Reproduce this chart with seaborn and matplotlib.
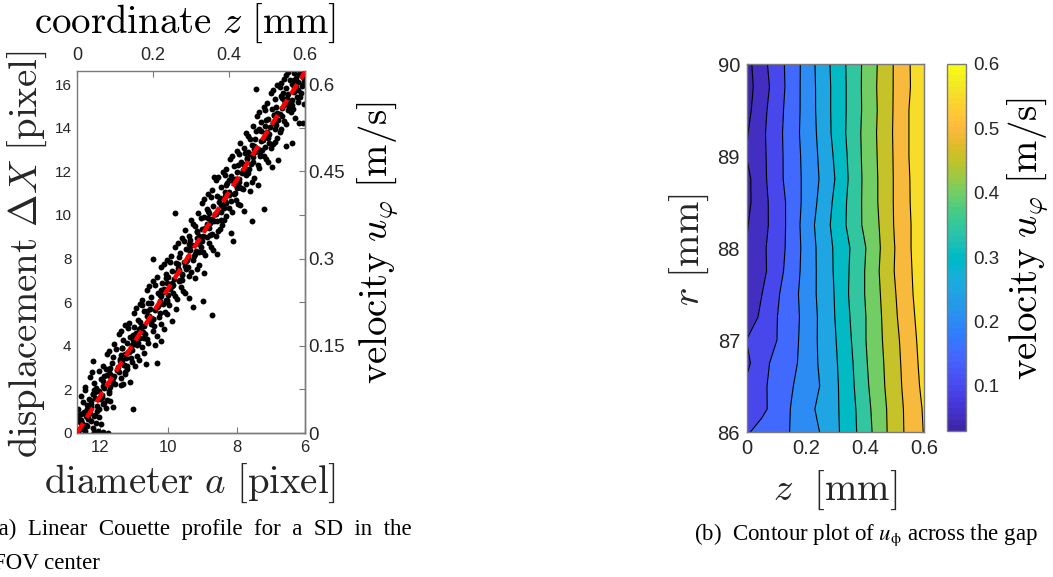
import numpy as np
import matplotlib
matplotlib.use("Agg")
import matplotlib.pyplot as plt
import seaborn as sns
import pandas as pd
from matplotlib.colors import ListedColormap, Normalize
from matplotlib.cm import ScalarMappable

# ---------------- data: (a) single SD, displacement vs. gap coordinate ----------------
# (z [mm], dX [pixel]) read off the scatter cloud -- outer part of the cloud
samples = [
    (0.004, 0.12), (0.012, 0.45), (0.021, 0.08), (0.030, 0.62), (0.008, 0.88), (0.041, 0.25),
    (0.055, 0.10), (0.018, 0.97), (0.036, 0.55), (0.062, 0.40), (0.002, 0.70), (0.047, 0.83),
    (0.026, 0.30), (0.069, 0.05), (0.015, 0.20), (0.058, 0.74), (0.033, 0.91), (0.081, 0.02),
    (0.044, 0.06), (0.010, 0.60), (0.024, 0.78), (0.050, 0.48),
    (0.003, 1.10), (0.017, 1.42), (0.029, 1.05), (0.041, 1.80), (0.052, 1.25), (0.064, 1.60),
    (0.075, 1.15), (0.088, 1.45), (0.022, 1.95), (0.036, 1.33), (0.047, 1.62), (0.059, 1.92),
    (0.070, 1.38), (0.011, 1.70), (0.083, 1.85), (0.095, 1.20), (0.031, 1.55), (0.057, 1.08),
    (0.044, 1.98), (0.067, 1.74), (0.078, 1.52), (0.025, 1.28), (0.148, 1.09),
    (0.021, 2.10), (0.034, 2.55), (0.046, 2.30), (0.058, 2.85), (0.069, 2.15), (0.080, 2.65),
    (0.092, 2.40), (0.104, 2.90), (0.115, 2.20), (0.127, 2.70), (0.140, 2.35), (0.051, 2.05),
    (0.063, 2.48), (0.075, 2.95), (0.087, 2.12), (0.098, 2.60), (0.110, 2.78), (0.122, 2.25),
    (0.040, 2.82), (0.084, 2.88), (0.071, 2.60), (0.117, 2.52), (0.132, 2.95),
    (0.041, 3.30), (0.068, 3.05), (0.079, 3.60), (0.091, 3.20), (0.102, 3.85), (0.113, 3.40),
    (0.124, 3.10), (0.135, 3.70), (0.146, 3.25), (0.158, 3.55), (0.170, 3.95), (0.181, 3.15),
    (0.096, 3.50), (0.108, 3.02), (0.119, 3.92), (0.130, 3.45), (0.141, 3.80), (0.152, 3.05),
    (0.164, 3.35), (0.085, 3.75), (0.210, 3.20), (0.126, 3.62), (0.175, 3.66),
    (0.098, 4.10), (0.110, 4.55), (0.121, 4.25), (0.133, 4.80), (0.144, 4.05), (0.155, 4.60),
    (0.166, 4.35), (0.177, 4.90), (0.188, 4.15), (0.199, 4.70), (0.211, 4.45), (0.222, 4.20),
    (0.127, 4.95), (0.139, 4.40), (0.150, 4.85), (0.161, 4.12), (0.172, 4.65), (0.184, 4.30),
    (0.195, 4.98), (0.116, 4.68), (0.205, 4.02), (0.147, 4.28), (0.228, 4.75),
    (0.138, 5.05), (0.149, 5.50), (0.161, 5.20), (0.172, 5.85), (0.183, 5.35), (0.194, 5.10),
    (0.205, 5.65), (0.216, 5.30), (0.227, 5.90), (0.238, 5.45), (0.249, 5.15), (0.260, 5.70),
    (0.177, 5.60), (0.188, 5.95), (0.199, 5.25), (0.210, 5.80), (0.221, 5.02), (0.232, 5.55),
    (0.166, 5.92), (0.243, 5.88), (0.304, 5.77), (0.354, 5.41), (0.155, 5.75),
    (0.172, 6.10), (0.184, 6.55), (0.195, 6.25), (0.206, 6.80), (0.218, 6.05), (0.229, 6.60),
    (0.240, 6.35), (0.251, 6.90), (0.262, 6.15), (0.273, 6.70), (0.284, 6.40), (0.296, 6.20),
    (0.200, 6.95), (0.212, 6.42), (0.223, 6.88), (0.235, 6.12), (0.246, 6.62), (0.257, 6.30),
    (0.268, 6.97), (0.190, 6.72), (0.279, 6.52), (0.332, 6.07), (0.225, 6.48),
    (0.210, 7.15), (0.222, 7.60), (0.233, 7.30), (0.244, 7.85), (0.255, 7.05), (0.266, 7.55),
    (0.277, 7.25), (0.288, 7.90), (0.299, 7.40), (0.311, 7.10), (0.322, 7.70), (0.334, 7.35),
    (0.238, 7.95), (0.249, 7.45), (0.260, 7.80), (0.271, 7.02), (0.283, 7.65), (0.294, 7.20),
    (0.305, 7.92), (0.228, 7.75), (0.316, 7.50), (0.200, 7.98), (0.262, 7.38),
    (0.248, 8.10), (0.259, 8.55), (0.270, 8.25), (0.281, 8.80), (0.292, 8.05), (0.303, 8.60),
    (0.314, 8.35), (0.325, 8.90), (0.336, 8.15), (0.347, 8.70), (0.358, 8.40), (0.369, 8.20),
    (0.276, 8.95), (0.287, 8.45), (0.298, 8.85), (0.309, 8.12), (0.320, 8.65), (0.331, 8.30),
    (0.342, 8.98), (0.265, 8.72), (0.353, 8.52), (0.411, 8.80), (0.296, 8.40),
    (0.283, 9.30), (0.294, 9.05), (0.305, 9.60), (0.316, 9.20), (0.327, 9.85), (0.338, 9.40),
    (0.349, 9.10), (0.360, 9.70), (0.371, 9.25), (0.382, 9.55), (0.393, 9.95), (0.404, 9.15),
    (0.311, 9.50), (0.322, 9.02), (0.333, 9.92), (0.344, 9.45), (0.355, 9.80), (0.366, 9.05),
    (0.377, 9.35), (0.300, 9.75), (0.460, 9.70), (0.350, 9.62), (0.388, 9.78),
    (0.318, 10.10), (0.329, 10.55), (0.341, 10.25), (0.352, 10.80), (0.363, 10.05), (0.374, 10.60),
    (0.385, 10.35), (0.396, 10.90), (0.407, 10.15), (0.418, 10.70), (0.429, 10.45), (0.440, 10.20),
    (0.346, 10.95), (0.357, 10.42), (0.368, 10.85), (0.379, 10.12), (0.390, 10.65), (0.401, 10.30),
    (0.412, 10.98), (0.335, 10.72), (0.258, 10.10), (0.492, 10.28), (0.423, 10.52),
    (0.356, 11.15), (0.367, 11.60), (0.378, 11.30), (0.389, 11.85), (0.400, 11.05), (0.411, 11.55),
    (0.422, 11.25), (0.433, 11.90), (0.444, 11.40), (0.455, 11.10), (0.466, 11.70), (0.477, 11.35),
    (0.383, 11.95), (0.394, 11.45), (0.405, 11.80), (0.416, 11.02), (0.427, 11.65), (0.438, 11.20),
    (0.449, 11.92), (0.372, 11.75), (0.460, 11.50), (0.360, 11.73), (0.418, 11.38),
    (0.392, 12.10), (0.403, 12.55), (0.414, 12.25), (0.425, 12.80), (0.436, 12.05), (0.447, 12.60),
    (0.458, 12.35), (0.469, 12.90), (0.480, 12.15), (0.491, 12.70), (0.502, 12.45), (0.513, 12.20),
    (0.420, 12.95), (0.431, 12.42), (0.442, 12.85), (0.453, 12.12), (0.464, 12.65), (0.475, 12.30),
    (0.486, 12.98), (0.409, 12.72), (0.530, 12.50), (0.497, 12.58), (0.456, 12.78),
    (0.428, 13.30), (0.439, 13.05), (0.450, 13.60), (0.461, 13.20), (0.472, 13.85), (0.483, 13.40),
    (0.494, 13.10), (0.505, 13.70), (0.516, 13.25), (0.527, 13.55), (0.538, 13.95), (0.549, 13.15),
    (0.456, 13.50), (0.467, 13.02), (0.478, 13.92), (0.489, 13.45), (0.500, 13.80), (0.511, 13.05),
    (0.522, 13.35), (0.445, 13.75), (0.567, 13.29), (0.495, 13.62), (0.533, 13.78),
    (0.463, 14.10), (0.474, 14.55), (0.485, 14.25), (0.496, 14.80), (0.507, 14.05), (0.518, 14.60),
    (0.529, 14.35), (0.540, 14.90), (0.551, 14.15), (0.562, 14.70), (0.573, 14.45), (0.584, 14.20),
    (0.491, 14.95), (0.502, 14.42), (0.513, 14.85), (0.524, 14.12), (0.535, 14.65), (0.546, 14.30),
    (0.557, 14.98), (0.480, 14.72), (0.594, 14.20), (0.520, 14.52), (0.568, 14.88),
    (0.500, 15.15), (0.511, 15.60), (0.522, 15.30), (0.533, 15.85), (0.544, 15.05), (0.555, 15.55),
    (0.566, 15.25), (0.577, 15.90), (0.588, 15.40), (0.597, 15.10), (0.527, 15.95), (0.538, 15.45),
    (0.549, 15.80), (0.560, 15.02), (0.571, 15.65), (0.582, 15.20), (0.593, 15.92), (0.516, 15.72),
    (0.471, 15.77), (0.553, 15.38), (0.590, 15.60),
    (0.538, 16.05), (0.549, 16.40), (0.560, 16.20), (0.571, 16.50), (0.582, 16.10), (0.593, 16.35),
    (0.555, 16.55), (0.566, 16.00), (0.577, 16.30), (0.588, 16.45), (0.598, 16.15), (0.545, 16.25),
]
# dense core of the cloud, close to the fit line
samples_core = [
    (0.023, 0.35), (0.007, 0.52), (0.030, 0.71), (0.011, 0.86), (0.053, 1.02), (0.037, 1.18),
    (0.069, 1.31), (0.038, 1.47), (0.067, 1.66), (0.041, 1.79), (0.083, 1.93), (0.071, 2.08),
    (0.100, 2.24), (0.069, 2.37), (0.094, 2.53), (0.086, 2.69), (0.127, 2.81), (0.087, 2.97),
    (0.123, 3.14), (0.112, 3.28), (0.141, 3.43), (0.116, 3.59), (0.138, 3.72), (0.118, 3.88),
    (0.158, 4.03), (0.149, 4.17), (0.177, 4.34), (0.147, 4.49), (0.173, 4.61), (0.163, 4.78),
    (0.202, 4.92), (0.165, 5.07), (0.201, 5.23), (0.190, 5.38), (0.218, 5.52), (0.193, 5.68),
    (0.212, 5.83), (0.194, 5.97), (0.236, 6.12), (0.220, 6.28), (0.253, 6.41), (0.221, 6.57),
    (0.249, 6.73), (0.237, 6.86), (0.277, 7.02), (0.240, 7.17), (0.275, 7.31), (0.268, 7.48),
    (0.292, 7.62), (0.267, 7.77), (0.289, 7.93), (0.268, 8.06), (0.311, 8.22), (0.298, 8.38),
    (0.327, 8.51), (0.296, 8.67), (0.328, 8.82), (0.316, 8.96), (0.356, 9.13), (0.315, 9.27),
    (0.348, 9.42), (0.343, 9.58), (0.369, 9.71), (0.344, 9.87), (0.366, 10.02), (0.345, 10.16),
    (0.386, 10.33), (0.378, 10.47), (0.405, 10.62), (0.375, 10.78), (0.401, 10.91), (0.390, 11.07),
    (0.431, 11.23), (0.393, 11.36), (0.427, 11.52), (0.417, 11.67), (0.446, 11.81), (0.421, 11.98),
    (0.441, 12.12), (0.423, 12.27), (0.464, 12.43), (0.448, 12.56), (0.482, 12.72), (0.450, 12.88),
    (0.476, 13.01), (0.465, 13.17), (0.506, 13.32), (0.468, 13.46), (0.503, 13.63), (0.496, 13.77),
    (0.520, 13.92), (0.495, 14.08), (0.516, 14.21), (0.497, 14.37), (0.539, 14.52), (0.526, 14.66),
    (0.556, 14.83), (0.524, 14.97), (0.555, 15.12), (0.544, 15.28), (0.580, 15.41), (0.543, 15.57),
    (0.581, 15.72), (0.571, 15.86), (0.595, 16.02), (0.572, 16.17), (0.595, 16.33), (0.585, 16.48),
    (0.011, 0.44), (0.046, 0.78), (0.027, 1.12), (0.061, 1.55), (0.048, 1.88), (0.095, 2.31),
    (0.087, 2.62), (0.132, 3.05), (0.119, 3.36), (0.145, 3.79), (0.132, 4.11), (0.179, 4.55),
    (0.169, 4.86), (0.194, 5.29), (0.184, 5.61), (0.236, 6.03), (0.219, 6.35), (0.252, 6.79),
    (0.234, 7.10), (0.286, 7.54), (0.282, 7.85), (0.320, 8.29), (0.297, 8.60), (0.332, 9.04),
    (0.330, 9.35), (0.378, 9.79), (0.348, 10.10), (0.391, 10.54), (0.389, 10.85), (0.425, 11.29),
    (0.399, 11.60), (0.439, 12.04), (0.436, 12.35), (0.482, 12.79), (0.469, 13.10), (0.503, 13.54),
    (0.483, 13.85), (0.524, 14.29), (0.519, 14.60), (0.567, 15.04), (0.540, 15.35), (0.576, 15.79),
    (0.575, 16.10), (0.597, 16.42),
]
fit_z = [0.0, 0.6]
fit_dx = [0.0, 16.56]

z_ticks = [0, 0.2, 0.4, 0.6]
z_labels = ["0", "0.2", "0.4", "0.6"]
a_ticks = [12, 10, 8, 6]
dx_ticks = [0, 2, 4, 6, 8, 10, 12, 14, 16]
v_ticks = [0, 0.075, 0.15, 0.225, 0.3, 0.375, 0.45, 0.525, 0.6]
v_labels = ["0", "", "0.15", "", "0.3", "", "0.45", "", "0.6"]

# ---------------- data: (b) velocity field u_phi(z, r) ----------------
gap_z = [0, 0.05, 0.1, 0.15, 0.2, 0.25, 0.3, 0.35, 0.4, 0.45, 0.5, 0.55, 0.6]
radius_r = [90, 89.75, 89.5, 89.25, 89, 88.75, 88.5, 88.25, 88, 87.75, 87.5, 87.25, 87, 86.75, 86.5, 86.25, 86]
u_phi = [
    [0.034, 0.083, 0.127, 0.170, 0.219, 0.270, 0.318, 0.364, 0.411, 0.458, 0.504, 0.547, 0.596],
    [0.031, 0.076, 0.122, 0.171, 0.219, 0.267, 0.316, 0.363, 0.412, 0.460, 0.504, 0.546, 0.595],
    [0.036, 0.084, 0.129, 0.173, 0.218, 0.267, 0.316, 0.363, 0.411, 0.458, 0.505, 0.551, 0.599],
    [0.047, 0.089, 0.132, 0.176, 0.219, 0.263, 0.316, 0.365, 0.414, 0.460, 0.506, 0.551, 0.599],
    [0.052, 0.087, 0.131, 0.174, 0.215, 0.259, 0.308, 0.361, 0.413, 0.458, 0.505, 0.551, 0.599],
    [0.038, 0.085, 0.131, 0.173, 0.213, 0.255, 0.302, 0.358, 0.411, 0.456, 0.504, 0.548, 0.597],
    [0.038, 0.082, 0.123, 0.167, 0.216, 0.262, 0.311, 0.363, 0.411, 0.456, 0.504, 0.547, 0.596],
    [0.047, 0.083, 0.121, 0.168, 0.222, 0.271, 0.316, 0.364, 0.410, 0.452, 0.503, 0.544, 0.593],
    [0.052, 0.089, 0.126, 0.167, 0.218, 0.265, 0.308, 0.351, 0.397, 0.448, 0.499, 0.544, 0.593],
    [0.052, 0.086, 0.129, 0.173, 0.218, 0.264, 0.307, 0.354, 0.401, 0.452, 0.501, 0.541, 0.589],
    [0.055, 0.099, 0.142, 0.180, 0.221, 0.263, 0.304, 0.356, 0.401, 0.448, 0.496, 0.538, 0.585],
    [0.065, 0.112, 0.148, 0.180, 0.216, 0.260, 0.302, 0.351, 0.397, 0.444, 0.492, 0.533, 0.578],
    [0.102, 0.125, 0.149, 0.182, 0.218, 0.260, 0.298, 0.346, 0.397, 0.442, 0.486, 0.528, 0.572],
    [0.090, 0.133, 0.165, 0.187, 0.218, 0.258, 0.294, 0.340, 0.393, 0.438, 0.482, 0.525, 0.567],
    [0.110, 0.140, 0.168, 0.196, 0.224, 0.252, 0.291, 0.336, 0.388, 0.435, 0.479, 0.522, 0.562],
    [0.115, 0.139, 0.169, 0.202, 0.232, 0.262, 0.291, 0.331, 0.381, 0.429, 0.474, 0.517, 0.555],
    [0.145, 0.167, 0.184, 0.202, 0.227, 0.252, 0.289, 0.330, 0.376, 0.426, 0.474, 0.515, 0.552],
]
line_levels = [0.05, 0.1, 0.15, 0.2, 0.25, 0.3, 0.35, 0.4, 0.45, 0.5, 0.55]
fill_levels = [0.03] + line_levels + [0.61]
cbar_ticks = [0.1, 0.2, 0.3, 0.4, 0.5, 0.6]
r_ticks = [86, 87, 88, 89, 90]

# MATLAB parula (64 entries)
parula = ListedColormap([
    [0.2422, 0.1504, 0.6603], [0.2504, 0.1650, 0.7076], [0.2578, 0.1818, 0.7511], [0.2647, 0.1978, 0.7952],
    [0.2706, 0.2147, 0.8364], [0.2751, 0.2342, 0.8710], [0.2783, 0.2559, 0.8991], [0.2803, 0.2782, 0.9221],
    [0.2813, 0.3006, 0.9414], [0.2810, 0.3228, 0.9579], [0.2795, 0.3447, 0.9717], [0.2760, 0.3667, 0.9829],
    [0.2699, 0.3892, 0.9906], [0.2602, 0.4123, 0.9952], [0.2440, 0.4358, 0.9988], [0.2206, 0.4603, 0.9973],
    [0.1963, 0.4847, 0.9892], [0.1834, 0.5074, 0.9798], [0.1786, 0.5289, 0.9682], [0.1764, 0.5499, 0.9520],
    [0.1687, 0.5703, 0.9359], [0.1540, 0.5902, 0.9218], [0.1460, 0.6091, 0.9079], [0.1380, 0.6276, 0.8973],
    [0.1248, 0.6459, 0.8883], [0.1113, 0.6635, 0.8763], [0.0952, 0.6798, 0.8598], [0.0689, 0.6948, 0.8394],
    [0.0297, 0.7082, 0.8163], [0.0036, 0.7203, 0.7917], [0.0067, 0.7312, 0.7660], [0.0433, 0.7411, 0.7394],
    [0.0964, 0.7500, 0.7120], [0.1408, 0.7584, 0.6842], [0.1717, 0.7670, 0.6554], [0.1938, 0.7758, 0.6251],
    [0.2161, 0.7843, 0.5923], [0.2470, 0.7918, 0.5567], [0.2906, 0.7973, 0.5188], [0.3406, 0.8008, 0.4789],
    [0.3909, 0.8029, 0.4354], [0.4456, 0.8024, 0.3909], [0.5044, 0.7993, 0.3480], [0.5616, 0.7942, 0.3045],
    [0.6174, 0.7876, 0.2612], [0.6720, 0.7793, 0.2227], [0.7242, 0.7698, 0.1910], [0.7738, 0.7598, 0.1646],
    [0.8203, 0.7498, 0.1535], [0.8634, 0.7406, 0.1596], [0.9035, 0.7330, 0.1774], [0.9393, 0.7288, 0.2100],
    [0.9728, 0.7298, 0.2394], [0.9956, 0.7434, 0.2371], [0.9970, 0.7659, 0.2199], [0.9952, 0.7893, 0.2028],
    [0.9892, 0.8136, 0.1885], [0.9786, 0.8386, 0.1766], [0.9676, 0.8639, 0.1643], [0.9610, 0.8890, 0.1537],
    [0.9597, 0.9135, 0.1423], [0.9628, 0.9373, 0.1265], [0.9691, 0.9606, 0.1064], [0.9769, 0.9839, 0.0805],
])

# ---------------- style ----------------
sns.set_style("white")
plt.rcParams["font.family"] = ["Liberation Sans", "DejaVu Sans"]
plt.rcParams["mathtext.fontset"] = "cm"

SPINE = "#7a7a7a"
TXT = "#262626"
W, H = 1053, 577

fig = plt.figure(figsize=(W / 100, H / 100), dpi=100)

def box(x0, y0, x1, y1):
    return [x0 / W, 1 - y1 / H, (x1 - x0) / W, (y1 - y0) / H]

# ---------------- (a) scatter with four axes ----------------
ax1 = fig.add_axes(box(77, 71, 305, 433))
df = pd.DataFrame(samples + samples_core, columns=["z", "dx"])
sns.scatterplot(data=df, x="z", y="dx", ax=ax1, color="black", s=18,
                linewidth=0, legend=False, zorder=2)
ax1.plot(fit_z, fit_dx, color="red", lw=3.2, dashes=(2.6, 1.5), zorder=3)

ax1.set_xlim(0, 0.6)
ax1.set_ylim(0, 16.6)
ax1.set_xlabel("")
ax1.set_ylabel("")
ax1.xaxis.tick_top()
ax1.set_xticks(z_ticks)
ax1.set_xticklabels(z_labels)
ax1.set_yticks(dx_ticks)
ax1.set_yticklabels([str(t) for t in dx_ticks])
ax1.tick_params(axis="x", direction="in", length=4, labelsize=13, colors=SPINE,
                labelcolor=TXT, pad=5, top=True, bottom=False)
ax1.tick_params(axis="y", direction="in", length=4, labelsize=11, colors=SPINE,
                labelcolor=TXT, pad=4, right=False)

a0 = 12.68
def z_to_a(z):
    return a0 - np.asarray(z) * (a0 - 6) / 0.6
def a_to_z(a):
    return (a0 - np.asarray(a)) * 0.6 / (a0 - 6)

secx = ax1.secondary_xaxis("bottom", functions=(z_to_a, a_to_z))
secx.set_xticks(a_ticks)
secx.set_xticklabels([str(t) for t in a_ticks])
secx.tick_params(direction="in", length=4, labelsize=12, colors=SPINE, labelcolor=TXT, pad=5)

def dx_to_v(d):
    return np.asarray(d) * 0.6 / 16
def v_to_dx(v):
    return np.asarray(v) * 16 / 0.6

secy = ax1.secondary_yaxis("right", functions=(dx_to_v, v_to_dx))
secy.set_yticks(v_ticks)
secy.set_yticklabels(v_labels)
secy.tick_params(direction="in", length=4, labelsize=13.5, colors=SPINE, labelcolor=TXT, pad=2)

for sp in list(ax1.spines.values()) + list(secx.spines.values()) + list(secy.spines.values()):
    sp.set_color(SPINE)
    sp.set_linewidth(1.0)

fig.text(185 / W, 1 - 23 / H, r"$\mathrm{coordinate}\ z\ [\mathrm{mm}]$",
         fontsize=28, ha="center", va="center", color="black")
fig.text(190 / W, 1 - 483 / H, r"$\mathrm{diameter}\ a\ [\mathrm{pixel}]$",
         fontsize=28, ha="center", va="center", color=TXT)
fig.text(27 / W, 1 - 254 / H, r"$\mathrm{displacement}\ \Delta X\ [\mathrm{pixel}]$",
         fontsize=28, ha="center", va="center", rotation=90, color=TXT)
fig.text(378 / W, 1 - 243 / H, r"$\mathrm{velocity}\ u_\varphi\ [\mathrm{m/s}]$",
         fontsize=28, ha="center", va="center", rotation=90, color="black")

# ---------------- (b) contour plot ----------------
ax2 = fig.add_axes(box(747, 64, 924, 432))
U = np.array(u_phi)
norm = Normalize(vmin=0.03, vmax=0.6)
# MATLAB fills each band with the colour of its lower level
band_colors = [parula(norm(lv)) for lv in fill_levels[:-1]]
ax2.contourf(gap_z, radius_r, U, levels=fill_levels, colors=band_colors)
ax2.contour(gap_z, radius_r, U, levels=line_levels, colors="black", linewidths=0.8)
ax2.set_xlim(0, 0.6)
ax2.set_ylim(86, 90)
ax2.set_xticks(z_ticks)
ax2.set_xticklabels(z_labels)
ax2.set_yticks(r_ticks)
ax2.set_yticklabels([str(t) for t in r_ticks])
ax2.tick_params(direction="in", length=4, labelsize=14.5, colors=SPINE, labelcolor=TXT,
                top=True, right=True, pad=5)
for sp in ax2.spines.values():
    sp.set_color(SPINE)
    sp.set_linewidth(1.0)

cax = fig.add_axes(box(947, 64, 966, 431))
cb = fig.colorbar(ScalarMappable(norm=norm, cmap=parula), cax=cax)
cb.set_ticks(cbar_ticks)
cb.set_ticklabels([str(t) for t in cbar_ticks])
cb.ax.tick_params(direction="in", length=3, labelsize=13.5, colors=SPINE, labelcolor=TXT, pad=5)
cb.outline.set_edgecolor(SPINE)
cb.outline.set_linewidth(1.0)

fig.text(689 / W, 1 - 250 / H, r"$r\ [\mathrm{mm}]$", fontsize=28, ha="center",
         va="center", rotation=90, color=TXT)
fig.text(835 / W, 1 - 490 / H, r"$z\ \ [\mathrm{mm}]$", fontsize=28, ha="center",
         va="center", color=TXT)
fig.text(1028 / W, 1 - 239 / H, r"$\mathrm{velocity}\ u_\varphi\ [\mathrm{m/s}]$",
         fontsize=28, ha="center", va="center", rotation=90, color="black")

# ---------------- captions ----------------
cap = dict(family=["Liberation Serif", "DejaVu Serif"], fontsize=16.5, color="black",
           va="baseline", math_fontfamily="stix")
fig.text(-9 / W, 1 - 535 / H, "(a)  Linear  Couette  profile  for  a  SD  in  the", ha="left", **cap)
fig.text(-7 / W, 1 - 569 / H, "FOV center", ha="left", **cap)
fig.text(1038 / W, 1 - 540 / H, r"(b)  Contour plot of $u_{\mathrm{\phi}}$ across the gap",
         ha="right", **cap)

fig.savefig("out.png", dpi=100)
